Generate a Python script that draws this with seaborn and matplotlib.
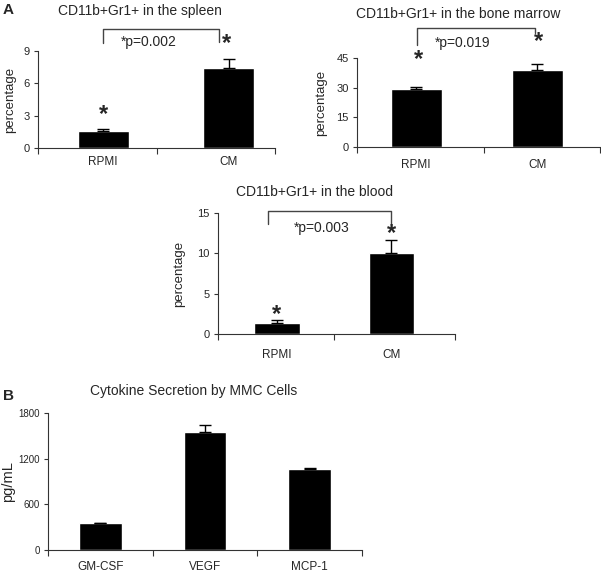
import matplotlib
matplotlib.use("Agg")
import matplotlib.pyplot as plt
import seaborn as sns

sns.set_style("white")
plt.rcParams['font.family'] = ['Liberation Sans', 'DejaVu Sans']

groups = ["RPMI", "CM"]
spleen_pct = [1.54, 7.4]
spleen_err = [0.25, 0.84]
marrow_pct = [29.5, 38.8]
marrow_err = [0.8, 3.3]
blood_pct = [1.36, 10.05]
blood_err = [0.34, 1.65]

cytokines = ["GM-CSF", "VEGF", "MCP-1"]
cytokine_pg = [350, 1545, 1062]
cytokine_err = [0, 100, 13]

W, H = 601, 575


def box(x0, x1, y_top, y_bot):
    # pixel box -> figure fraction
    return [x0 / W, 1 - y_bot / H, (x1 - x0) / W, (y_bot - y_top) / H]


def panel(ax, cats, vals, errs, ymax, yticks, xlim, width, bounds, pad, ysize=8):
    sns.barplot(x=cats, y=vals, color="black", saturation=1, width=width,
                errorbar=None, ax=ax)
    xs = list(range(len(cats)))
    ax.errorbar(xs, vals, yerr=[[0] * len(errs), errs], fmt="none",
                ecolor="black", elinewidth=1, capsize=4, capthick=1)
    ax.set_xlim(*xlim)
    ax.set_ylim(0, ymax)
    ax.set_yticks(yticks)
    ax.set_xticks(xs)
    ax.set_xticklabels(cats, fontsize=8.5)
    ax.set_xticks(bounds, minor=True)
    ax.tick_params(axis="x", which="major", length=0, pad=pad)
    ax.tick_params(axis="x", which="minor", length=4, width=0.8,
                   direction="out", bottom=True, color="#333333")
    ax.tick_params(axis="y", length=3, width=0.8, direction="out", left=True,
                   pad=3, labelsize=ysize, color="#333333")
    for s in ["top", "right"]:
        ax.spines[s].set_visible(False)
    for s in ["left", "bottom"]:
        ax.spines[s].set_color("#333333")
        ax.spines[s].set_linewidth(0.8)
    ax.set_xlabel("")


def bracket(ax, xl, yl, xr, yr, ytop, text, tx, ty):
    ax.plot([xl, xl, xr, xr], [yl, ytop, ytop, yr], color="#444444",
            lw=1, clip_on=False)
    ax.text(tx, ty, text, ha="center", va="center", fontsize=10, clip_on=False)


def star(ax, x, y):
    ax.text(x, y, "*", ha="center", va="center", fontsize=17,
            fontweight="bold", clip_on=False)


fig = plt.figure(figsize=(W / 100, H / 100), dpi=100)

# spleen
ax1 = fig.add_axes(box(38, 275, 51, 148))
panel(ax1, groups, spleen_pct, spleen_err, 9, [0, 3, 6, 9],
      (-0.52, 1.37), 0.41, [-0.52, 0.43, 1.37], 6)
ax1.set_ylabel("percentage", fontsize=9.5)
ax1.yaxis.set_label_coords(-0.093, 0.5)
bracket(ax1, 0, 9.7, 0.92, 9.8, 11.05, "*p=0.002", 0.36, 9.85)
star(ax1, 0, 3.1)
star(ax1, 0.98, 9.7)

# bone marrow
ax2 = fig.add_axes(box(357, 600, 58, 147))
panel(ax2, groups, marrow_pct, marrow_err, 45, [0, 15, 30, 45],
      (-0.49, 1.52), 0.42, [-0.49, 0.56, 1.52], 9)
ax2.set_ylabel("percentage", fontsize=9.5)
ax2.yaxis.set_label_coords(-0.123, 0.5)
bracket(ax2, 0.01, 51.6, 0.98, 57.6, 60.2, "*p=0.019", 0.38, 52.6)
star(ax2, 0.02, 44)
star(ax2, 1.01, 53.5)

# blood
ax3 = fig.add_axes(box(218, 455, 213, 334))
panel(ax3, groups, blood_pct, blood_err, 15, [0, 5, 10, 15],
      (-0.515, 1.555), 0.40, [-0.515, 0.5, 1.555], 11)
ax3.set_ylabel("percentage", fontsize=9.5)
ax3.yaxis.set_label_coords(-0.139, 0.5)
bracket(ax3, -0.08, 13.6, 1.0, 13.5, 15.25, "*p=0.003", 0.39, 13.1)
star(ax3, 0, 2.4)
star(ax3, 1.0, 12.4)

# cytokines
ax4 = fig.add_axes(box(48, 362, 413, 550))
panel(ax4, cytokines, cytokine_pg, cytokine_err, 1800, [0, 600, 1200, 1800],
      (-0.5, 2.5), 0.41, [-0.5, 0.5, 1.5, 2.5], 8, ysize=7)
ax4.set_ylabel("pg/mL", fontsize=10.5)
ax4.yaxis.set_label_coords(-0.105, 0.5)

fig.text(140 / W, 1 - 11 / H, "CD11b+Gr1+ in the spleen", ha="center", va="center", fontsize=10)
fig.text(458 / W, 1 - 14 / H, "CD11b+Gr1+ in the bone marrow", ha="center", va="center", fontsize=10)
fig.text(314 / W, 1 - 192 / H, "CD11b+Gr1+ in the blood", ha="center", va="center", fontsize=10)
fig.text(194 / W, 1 - 391 / H, "Cytokine Secretion by MMC Cells", ha="center", va="center", fontsize=10)
fig.text(8 / W, 1 - 10 / H, "A", ha="center", va="center", fontsize=11, fontweight="bold")
fig.text(8 / W, 1 - 396 / H, "B", ha="center", va="center", fontsize=11, fontweight="bold")

fig.savefig("out.png", dpi=100)
